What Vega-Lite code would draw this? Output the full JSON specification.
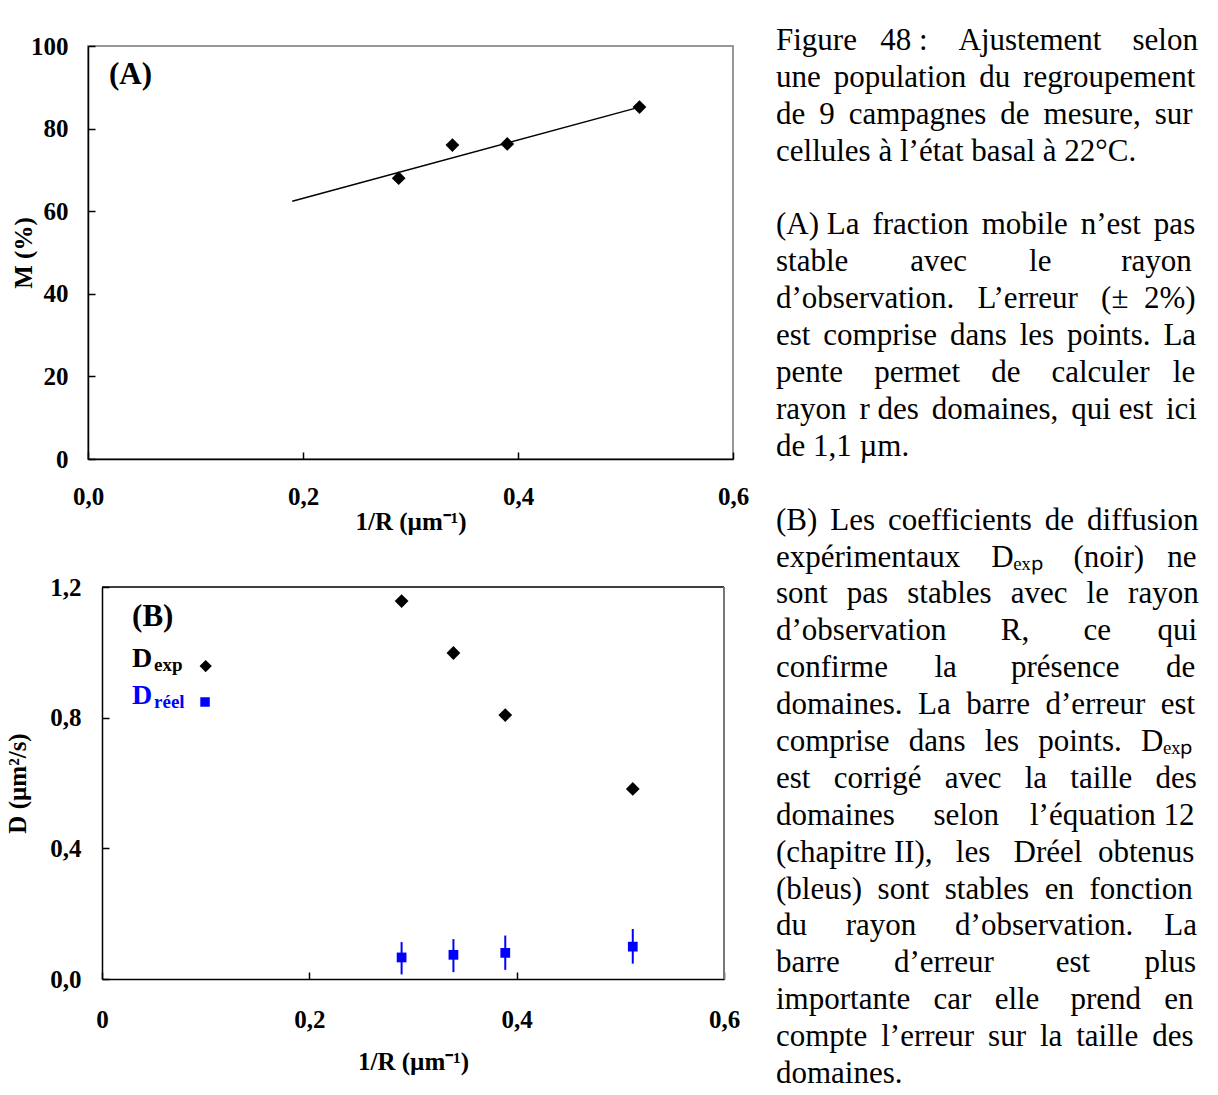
{
  "$schema": "https://vega.github.io/schema/vega-lite/v6.json",
  "background": "white",
  "padding": {"left": 5, "top": 25, "right": 0, "bottom": 0},
  "datasets": {
    "mobile": [
      {"invR": 0.289, "M": 68.0},
      {"invR": 0.339, "M": 76.0},
      {"invR": 0.390, "M": 76.3},
      {"invR": 0.513, "M": 85.2}
    ],
    "fit": [
      {"invR": 0.19, "M": 62.4},
      {"invR": 0.513, "M": 85.2}
    ],
    "dexp": [
      {"invR": 0.289, "D": 1.157},
      {"invR": 0.339, "D": 0.998},
      {"invR": 0.389, "D": 0.808},
      {"invR": 0.512, "D": 0.582}
    ],
    "dreel": [
      {"invR": 0.289, "D": 0.066, "lo": 0.014, "hi": 0.113},
      {"invR": 0.339, "D": 0.074, "lo": 0.021, "hi": 0.122},
      {"invR": 0.389, "D": 0.080, "lo": 0.028, "hi": 0.133},
      {"invR": 0.512, "D": 0.099, "lo": 0.047, "hi": 0.153}
    ],
    "legendB": [
      {"x": 0.029, "y": 0.955, "main": "D", "sub": "exp", "series": "exp", "sx": 0.100, "sy": 0.958},
      {"x": 0.029, "y": 0.842, "main": "D", "sub": "réel", "series": "reel", "sx": 0.0994, "sy": 0.848}
    ],
    "caption": [
      {"line": 0, "text": "Figure \u00a0\u00a048 : \u00a0\u00a0\u00a0Ajustement \u00a0\u00a0\u00a0selon"},
      {"line": 1, "text": "une \u2006population \u2006du \u2006regroupement"},
      {"line": 2, "text": "de \u20099 \u2009campagnes \u2009de \u2009mesure, \u2009sur"},
      {"line": 3, "text": "cellules à l’état basal à 22°C."},
      {"line": 5, "text": "(A) La \u2006fraction \u2006mobile \u2006n’est \u2006pas"},
      {"line": 6, "text": "stable \u00a0\u00a0\u00a0\u00a0\u00a0\u00a0\u00a0avec \u00a0\u00a0\u00a0\u00a0\u00a0\u00a0\u00a0le \u00a0\u00a0\u00a0\u00a0\u00a0\u00a0\u00a0\u00a0rayon"},
      {"line": 7, "text": "d’observation. \u00a0\u00a0L’erreur \u00a0\u00a0(± \u00a02%)"},
      {"line": 8, "text": "est \u2006comprise \u2006dans \u2006les \u2006points. \u2006La"},
      {"line": 9, "text": "pente \u00a0\u00a0\u00a0permet \u00a0\u00a0\u00a0de \u00a0\u00a0\u00a0calculer \u00a0\u00a0le"},
      {"line": 10, "text": "rayon \u2006r des \u2006domaines, \u2006qui est \u2006ici"},
      {"line": 11, "text": "de 1,1 µm."},
      {"line": 13, "text": "(B) \u2006Les \u2006coefficients \u2006de \u2006diffusion"},
      {"line": 14, "text": "expérimentaux \u00a0\u00a0\u00a0Dₑₓₚ \u00a0\u00a0\u00a0(noir) \u00a0\u00a0ne"},
      {"line": 15, "text": "sont \u2009\u2006pas \u2009\u2006stables \u2009\u2006avec \u2009\u2006le \u2009\u2006rayon"},
      {"line": 16, "text": "d’observation \u00a0\u00a0\u00a0\u00a0\u00a0\u00a0R, \u00a0\u00a0\u00a0\u00a0\u00a0\u00a0ce \u00a0\u00a0\u00a0\u00a0\u00a0qui"},
      {"line": 17, "text": "confirme \u00a0\u00a0\u00a0\u00a0\u00a0la \u00a0\u00a0\u00a0\u00a0\u00a0\u00a0présence \u00a0\u00a0\u00a0\u00a0\u00a0de"},
      {"line": 18, "text": "domaines. \u00a0La \u00a0barre \u00a0d’erreur \u00a0est"},
      {"line": 19, "text": "comprise \u2009\u2006dans \u2009\u2006les \u2009\u2006points. \u2009\u2006Dₑₓₚ"},
      {"line": 20, "text": "est \u00a0\u00a0corrigé \u00a0\u00a0avec \u00a0\u00a0la \u00a0\u00a0taille \u00a0\u00a0des"},
      {"line": 21, "text": "domaines \u00a0\u00a0\u00a0\u00a0selon \u00a0\u00a0\u00a0l’équation 12"},
      {"line": 22, "text": "(chapitre II), \u00a0\u00a0les \u00a0\u00a0Dréel \u00a0obtenus"},
      {"line": 23, "text": "(bleus) \u00a0sont \u00a0stables \u00a0en \u00a0fonction"},
      {"line": 24, "text": "du \u00a0\u00a0\u00a0\u00a0rayon \u00a0\u00a0\u00a0\u00a0d’observation. \u00a0\u00a0\u00a0La"},
      {"line": 25, "text": "barre \u00a0\u00a0\u00a0\u00a0\u00a0\u00a0d’erreur \u00a0\u00a0\u00a0\u00a0\u00a0\u00a0\u00a0est \u00a0\u00a0\u00a0\u00a0\u00a0\u00a0plus"},
      {"line": 26, "text": "importante \u00a0\u00a0car \u00a0\u00a0elle \u00a0\u00a0\u00a0prend \u00a0\u00a0en"},
      {"line": 27, "text": "compte \u2009l’erreur \u2009sur \u2009la \u2009taille \u2009des"},
      {"line": 28, "text": "domaines."}
    ]
  },
  "spacing": 26,
  "hconcat": [
    {
      "spacing": 40,
      "vconcat": [
        {
          "width": 645,
          "height": 413,
          "view": {"stroke": "#777", "strokeWidth": 1.5},
          "layer": [
            {
              "data": {"name": "fit"},
              "mark": {"type": "line", "color": "black", "strokeWidth": 1.5},
              "encoding": {
                "x": {"field": "invR", "type": "quantitative", "scale": {"domain": [0, 0.6], "nice": false},
                  "axis": {"values": [0, 0.2, 0.4, 0.6], "title": "1/R (µm⁻¹)", "labelExpr": "replace(format(datum.value, '.1f'), '.', ',')", "labelPadding": 32, "titlePadding": 0}},
                "y": {"field": "M", "type": "quantitative", "scale": {"domain": [0, 100], "nice": false},
                  "axis": {"values": [0, 20, 40, 60, 80, 100], "title": "M (%)", "labelPadding": 27, "titlePadding": -6}}
              }
            },
            {
              "data": {"name": "mobile"},
              "mark": {"type": "point", "shape": "diamond", "filled": true, "color": "black", "size": 190, "opacity": 1},
              "encoding": {
                "x": {"field": "invR", "type": "quantitative"},
                "y": {"field": "M", "type": "quantitative"}
              }
            },
            {
              "data": {"values": [{"x": 0.0195, "y": 90.8, "t": "(A)"}]},
              "mark": {"type": "text", "align": "left", "baseline": "alphabetic", "fontSize": 31, "fontWeight": "bold", "font": "Liberation Serif", "color": "black"},
              "encoding": {
                "x": {"field": "x", "type": "quantitative"},
                "y": {"field": "y", "type": "quantitative"},
                "text": {"field": "t"}
              }
            }
          ]
        },
        {
          "width": 636,
          "height": 392,
          "view": {"stroke": null},
          "layer": [
            {
              "data": {"values": [{"x": 0, "x2": 0.6, "y": 1.2, "y2": 1.2}]},
              "mark": {"type": "rule", "color": "black", "strokeWidth": 1.5},
              "encoding": {
                "x": {"field": "x", "type": "quantitative", "scale": {"domain": [0, 0.6], "nice": false, "range": [14, 636]},
                  "axis": {"values": [0, 0.2, 0.4, 0.6], "title": "1/R (µm⁻¹)", "labelExpr": "datum.value == 0 ? '0' : replace(format(datum.value, '.1f'), '.', ',')", "labelPadding": 35, "titlePadding": 17}},
                "x2": {"field": "x2"},
                "y": {"field": "y", "type": "quantitative", "scale": {"domain": [0, 1.2], "nice": false},
                  "axis": {"values": [0, 0.4, 0.8, 1.2], "title": "D (µm²/s)", "labelExpr": "replace(format(datum.value, '.1f'), '.', ',')", "labelPadding": 28, "titlePadding": 19, "offset": -14}},
                "y2": {"field": "y2"}
              }
            },
            {
              "data": {"values": [{"x": 0.6, "y": 0, "y2": 1.2}]},
              "mark": {"type": "rule", "color": "#777", "strokeWidth": 2},
              "encoding": {
                "x": {"field": "x", "type": "quantitative"},
                "y": {"field": "y", "type": "quantitative"},
                "y2": {"field": "y2"}
              }
            },
            {
              "data": {"name": "dreel"},
              "mark": {"type": "rule", "color": "#0000ff", "strokeWidth": 2},
              "encoding": {
                "x": {"field": "invR", "type": "quantitative"},
                "y": {"field": "lo", "type": "quantitative"},
                "y2": {"field": "hi"}
              }
            },
            {
              "data": {"name": "dreel"},
              "mark": {"type": "point", "shape": "square", "filled": true, "color": "#0000ff", "size": 95, "opacity": 1},
              "encoding": {
                "x": {"field": "invR", "type": "quantitative"},
                "y": {"field": "D", "type": "quantitative"}
              }
            },
            {
              "data": {"name": "dexp"},
              "mark": {"type": "point", "shape": "diamond", "filled": true, "color": "black", "size": 190, "opacity": 1},
              "encoding": {
                "x": {"field": "invR", "type": "quantitative"},
                "y": {"field": "D", "type": "quantitative"}
              }
            },
            {
              "data": {"values": [{"x": 0.029, "y": 1.08, "t": "(B)"}]},
              "mark": {"type": "text", "align": "left", "baseline": "alphabetic", "fontSize": 31, "fontWeight": "bold", "font": "Liberation Serif", "color": "black"},
              "encoding": {
                "x": {"field": "x", "type": "quantitative"},
                "y": {"field": "y", "type": "quantitative"},
                "text": {"field": "t"}
              }
            },
            {
              "data": {"name": "legendB"},
              "mark": {"type": "text", "align": "left", "baseline": "alphabetic", "fontSize": 28, "fontWeight": "bold", "font": "Liberation Serif"},
              "encoding": {
                "x": {"field": "x", "type": "quantitative"},
                "y": {"field": "y", "type": "quantitative"},
                "text": {"field": "main"},
                "color": {"field": "series", "type": "nominal", "scale": {"domain": ["exp", "reel"], "range": ["#000000", "#0000ff"]}, "legend": null}
              }
            },
            {
              "data": {"name": "legendB"},
              "mark": {"type": "text", "align": "left", "baseline": "alphabetic", "fontSize": 19, "fontWeight": "bold", "font": "Liberation Serif", "dx": 22, "dy": 4},
              "encoding": {
                "x": {"field": "x", "type": "quantitative"},
                "y": {"field": "y", "type": "quantitative"},
                "text": {"field": "sub"},
                "color": {"field": "series", "type": "nominal", "legend": null}
              }
            },
            {
              "data": {"name": "legendB"},
              "mark": {"type": "point", "filled": true, "opacity": 1},
              "encoding": {
                "x": {"field": "sx", "type": "quantitative"},
                "y": {"field": "sy", "type": "quantitative"},
                "shape": {"field": "series", "type": "nominal", "scale": {"domain": ["exp", "reel"], "range": ["diamond", "square"]}, "legend": null},
                "size": {"field": "series", "type": "nominal", "scale": {"domain": ["exp", "reel"], "range": [150, 90]}, "legend": null},
                "color": {"field": "series", "type": "nominal", "legend": null}
              }
            }
          ]
        }
      ]
    },
    {
      "width": 440,
      "height": 1040,
      "view": {"stroke": null},
      "data": {"name": "caption"},
      "mark": {"type": "text", "align": "left", "baseline": "alphabetic", "fontSize": 31, "font": "Liberation Serif", "color": "black"},
      "encoding": {
        "x": {"value": 0},
        "y": {"field": "line", "type": "quantitative", "scale": {"domain": [0, 28], "range": [4, 1037]}, "axis": null},
        "text": {"field": "text"}
      }
    }
  ],
  "config": {
    "font": "Liberation Serif",
    "axis": {
      "grid": false,
      "labelFont": "Liberation Serif",
      "labelFontSize": 25,
      "labelFontWeight": "bold",
      "labelColor": "black",
      "labelFlush": false,
      "labelOverlap": false,
      "titleFont": "Liberation Serif",
      "titleFontSize": 25,
      "titleFontWeight": "bold",
      "titleColor": "black",
      "domainColor": "black",
      "domainWidth": 1.5,
      "tickColor": "black",
      "tickWidth": 1.5,
      "tickSize": -7
    }
  }
}
